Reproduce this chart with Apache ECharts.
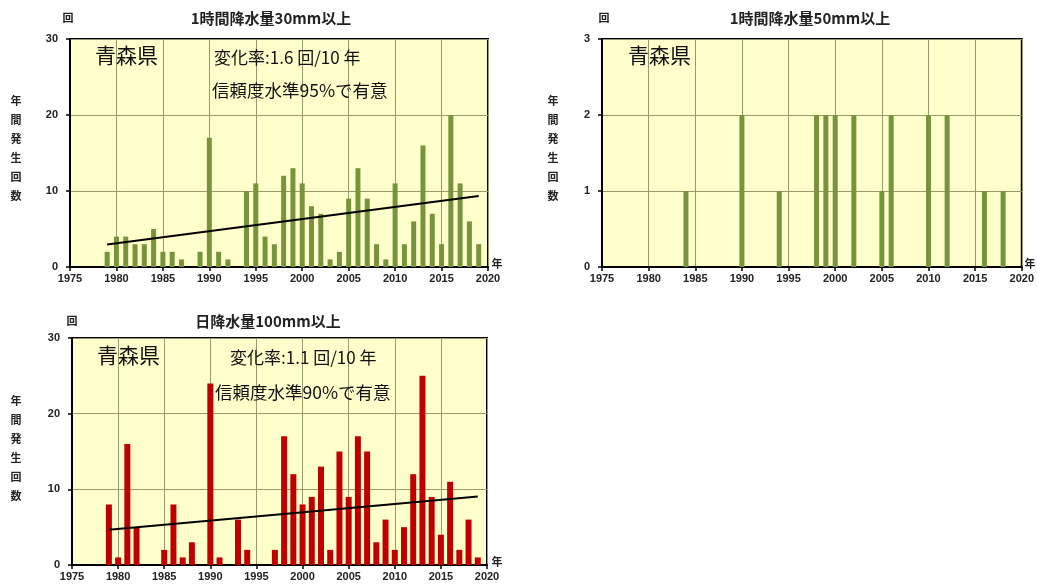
<!DOCTYPE html>
<html>
<head>
<meta charset="utf-8">
<script src="https://cdn.jsdelivr.net/npm/echarts@6/dist/echarts.min.js"></script>
<style>
  html, body { margin: 0; padding: 0; background: #ffffff; }
  #chart { width: 1037px; height: 584px; }
</style>
</head>
<body>
<div id="chart"></div>
<script>
// Annual occurrence counts, Aomori Prefecture
const years = [1979, 1980, 1981, 1982, 1983, 1984, 1985, 1986, 1987, 1988, 1989,
  1990, 1991, 1992, 1993, 1994, 1995, 1996, 1997, 1998, 1999,
  2000, 2001, 2002, 2003, 2004, 2005, 2006, 2007, 2008, 2009,
  2010, 2011, 2012, 2013, 2014, 2015, 2016, 2017, 2018, 2019];

// hourly precipitation >= 30 mm
const count30mm = [2, 4, 4, 3, 3, 5, 2, 2, 1, 0, 2,
  17, 2, 1, 0, 10, 11, 4, 3, 12, 13,
  11, 8, 7, 1, 2, 9, 13, 9, 3, 1,
  11, 3, 6, 16, 7, 3, 20, 11, 6, 3];

// hourly precipitation >= 50 mm (only years with occurrences)
const years50mm = [1984, 1990, 1994, 1998, 1999, 2000, 2002, 2005, 2006, 2010, 2012, 2016, 2018];
const count50mm = [1, 2, 1, 2, 2, 2, 2, 1, 2, 2, 2, 1, 1];

// daily precipitation >= 100 mm
const count100mm = [8, 1, 16, 5, 0, 0, 2, 8, 1, 3, 0,
  24, 1, 0, 6, 2, 0, 0, 2, 17, 12,
  8, 9, 13, 2, 15, 9, 17, 15, 3, 6,
  2, 5, 12, 25, 9, 4, 11, 2, 6, 1];

// linear trend end points [year, count]
const trendYears = [1979, 2019];
const trend30mm = [2.95, 9.35];
const trend100mm = [4.65, 9.05];

const titles = ['1時間降水量30mm以上', '1時間降水量50mm以上', '日降水量100mm以上'];
const yMax = [30, 3, 30];
const yStep = [10, 1, 10];
const xMin = 1975, xMax = 2020, xStep = 5;

const FONT = '"Noto Sans CJK JP", "Noto Sans", sans-serif';
const LABEL_FONT = '"Liberation Sans", Arial, sans-serif';
const grids = [
  { left: 70, top: 39, width: 418, height: 228 },
  { left: 602, top: 39, width: 420, height: 228 },
  { left: 72, top: 338, width: 415, height: 227 }
];

const pairs = (xs, ys) => xs.map((x, i) => [x, ys[i]]);

const gridOpts = grids.map(g => Object.assign({
  show: true, backgroundColor: '#ffffcc', borderColor: '#000', borderWidth: 2
}, g));

const xAxes = grids.map((g, i) => ({
  type: 'value', gridIndex: i, min: xMin, max: xMax, interval: xStep,
  axisLine: { show: true, onZero: false, lineStyle: { color: '#000', width: 2 } },
  axisTick: { show: true, length: 4, lineStyle: { color: '#000', width: 1.5 } },
  axisLabel: { color: '#222', fontSize: 11, fontWeight: 'bold', fontFamily: LABEL_FONT, margin: 6,
    formatter: v => String(v) },
  splitLine: { show: true, lineStyle: { color: '#999970', width: 1 } }
}));

const yAxes = grids.map((g, i) => ({
  type: 'value', gridIndex: i, min: 0, max: yMax[i], interval: yStep[i],
  axisLine: { show: true, lineStyle: { color: '#000', width: 2 } },
  axisTick: { show: true, length: 4, lineStyle: { color: '#000', width: 1.5 } },
  axisLabel: { color: '#222', fontSize: 11, fontWeight: 'bold', fontFamily: LABEL_FONT, margin: 12,
    formatter: v => String(v) },
  splitLine: { show: true, lineStyle: { color: '#999970', width: 1 } }
}));

const barBase = { type: 'bar', barWidth: 5, z: 2, silent: true };
const series = [
  Object.assign({}, barBase, { xAxisIndex: 0, yAxisIndex: 0, data: pairs(years, count30mm), itemStyle: { color: '#77933c' } }),
  Object.assign({}, barBase, { xAxisIndex: 1, yAxisIndex: 1, data: pairs(years50mm, count50mm), itemStyle: { color: '#77933c' } }),
  Object.assign({}, barBase, { xAxisIndex: 2, yAxisIndex: 2, barWidth: 6, data: pairs(years, count100mm), itemStyle: { color: '#c00000' } }),
  { type: 'line', xAxisIndex: 0, yAxisIndex: 0, data: pairs(trendYears, trend30mm), symbol: 'none', z: 5,
    lineStyle: { color: '#000', width: 2 }, silent: true },
  { type: 'line', xAxisIndex: 2, yAxisIndex: 2, data: pairs(trendYears, trend100mm), symbol: 'none', z: 5,
    lineStyle: { color: '#000', width: 2 }, silent: true }
];

// text placed around and inside the plots
const graphics = [];
function txt(x, y, text, size, opts) {
  graphics.push({
    type: 'text', x: x, y: y, z: 100, silent: true,
    style: Object.assign({ text: text, fill: '#222', font: 'bold ' + size + 'px ' + FONT,
      textAlign: 'left', textVerticalAlign: 'middle' }, opts || {})
  });
}
function vname(x, y0) {
  '年間発生回数'.split('').forEach((c, k) => txt(x, y0 + k * 19, c, 11, { textAlign: 'center' }));
}

// chart titles, unit marks, axis names
txt(271, 18, titles[0], 15, { textAlign: 'center' });
txt(810, 18, titles[1], 15, { textAlign: 'center' });
txt(268, 321, titles[2], 15, { textAlign: 'center' });
txt(68, 18, '回', 11, { textAlign: 'center' });
txt(604, 18, '回', 11, { textAlign: 'center' });
txt(72, 321, '回', 11, { textAlign: 'center' });
txt(497, 264, '年', 11, { textAlign: 'center' });
txt(1030, 264, '年', 11, { textAlign: 'center' });
txt(497, 562, '年', 11, { textAlign: 'center' });
vname(16, 101);
vname(553, 101);
vname(16, 401);

// in-plot annotations
function ann(x, y, text, size) {
  graphics.push({
    type: 'text', x: x, y: y, z: 100, silent: true,
    style: { text: text, fill: '#111', font: size + 'px ' + FONT, textAlign: 'left', textVerticalAlign: 'middle' }
  });
}
ann(95, 55, '青森県', 21);
ann(214, 58, '変化率:1.6 回/10 年', 17);
ann(212, 90, '信頼度水準95%で有意', 17.5);
ann(628, 55, '青森県', 21);
ann(97, 355, '青森県', 21);
ann(230, 358, '変化率:1.1 回/10 年', 17);
ann(215, 392, '信頼度水準90%で有意', 17.5);

const chart = echarts.init(document.getElementById('chart'), null, { renderer: 'canvas' });
chart.setOption({
  animation: false,
  backgroundColor: '#ffffff',
  grid: gridOpts,
  xAxis: xAxes,
  yAxis: yAxes,
  series: series,
  graphic: graphics
});
</script>
</body>
</html>
